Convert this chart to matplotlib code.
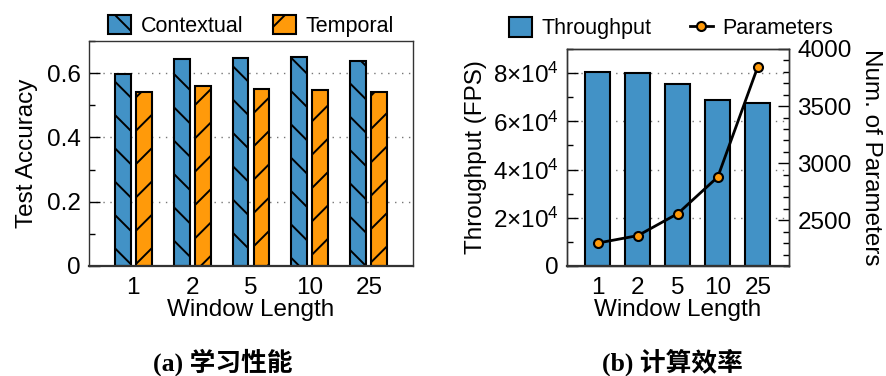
import numpy as np
import matplotlib
matplotlib.use("Agg")
import matplotlib.pyplot as plt
from matplotlib.ticker import MultipleLocator, FixedLocator

# data
windows = ["1", "2", "5", "10", "25"]
contextual = [0.598, 0.644, 0.646, 0.650, 0.637]
temporal = [0.542, 0.561, 0.551, 0.548, 0.541]
throughput = [80300, 80000, 75300, 69000, 67700]
parameters = [2301, 2366, 2559, 2880, 3845]

blue = "#4292c6"
orange = "#ff9a0a"

plt.rcParams["font.family"] = ["Liberation Sans", "DejaVu Sans"]
plt.rcParams["mathtext.fontset"] = "custom"
plt.rcParams["mathtext.rm"] = "Liberation Sans"
plt.rcParams["mathtext.it"] = "Liberation Sans"
plt.rcParams["hatch.linewidth"] = 1.4
plt.rcParams["axes.linewidth"] = 1.0

fs = 17.5
lfs = 15.5

fig = plt.figure(figsize=(8.87, 3.76), dpi=100)
ax1 = fig.add_axes([0.1003, 0.2926, 0.3653, 0.5984])
ax2 = fig.add_axes([0.6389, 0.2926, 0.2506, 0.5771])

x = np.arange(len(windows))


def style_axes(ax):
    for s in ax.spines.values():
        s.set_color("#333333")
        s.set_linewidth(1.0)
    ax.spines["bottom"].set_linewidth(1.6)
    ax.tick_params(axis="x", length=0, pad=8, labelsize=fs)
    ax.tick_params(axis="y", which="major", direction="in", length=8, width=1.0,
                   labelsize=fs, pad=6)
    ax.tick_params(axis="y", which="minor", direction="in", length=4.5, width=1.0)
    ax.set_axisbelow(True)


# (a) accuracy
w = 0.27
off = 0.178
ax1.bar(x - off, contextual, w, color=blue, edgecolor="black", linewidth=1.5,
        hatch="\\", label="Contextual")
ax1.bar(x + off, temporal, w, color=orange, edgecolor="black", linewidth=1.5,
        hatch="/", label="Temporal")
ax1.set_xlim(-0.75, 4.75)
ax1.set_ylim(0, 0.7)
ax1.set_xticks(x)
ax1.set_xticklabels(windows)
ax1.yaxis.set_major_locator(FixedLocator([0, 0.2, 0.4, 0.6]))
ax1.set_yticklabels(["0", "0.2", "0.4", "0.6"])
ax1.yaxis.set_minor_locator(MultipleLocator(0.1))
ax1.yaxis.grid(True, which="major", linestyle=(0, (1, 4)), color="#777777", linewidth=1.0)
style_axes(ax1)
ax1.set_xlabel("Window Length", fontsize=fs, labelpad=0)
ax1.set_ylabel("Test Accuracy", fontsize=fs, labelpad=6)
ax1.legend(loc="lower center", bbox_to_anchor=(0.5, 0.98), ncol=2, frameon=False,
           fontsize=lfs, handlelength=1.05, handleheight=1.0, handletextpad=0.45,
           columnspacing=1.4, borderaxespad=0.0)

# (b) throughput / parameters
ax2.bar(x, throughput, 0.62, color=blue, edgecolor="black", linewidth=1.5,
        label="Throughput")
ax2.set_xlim(-0.78, 4.78)
ax2.set_ylim(0, 90000)
ax2.set_xticks(x)
ax2.set_xticklabels(windows)
ax2.yaxis.set_major_locator(FixedLocator([0, 20000, 40000, 60000, 80000]))
ax2.set_yticklabels(["0", r"$2{\times}10^4$", r"$4{\times}10^4$",
                     r"$6{\times}10^4$", r"$8{\times}10^4$"])
ax2.yaxis.set_minor_locator(MultipleLocator(10000))
ax2.yaxis.grid(True, which="major", linestyle=(0, (1, 4)), color="#777777", linewidth=1.0)
style_axes(ax2)
ax2.set_xlabel("Window Length", fontsize=fs, labelpad=0)
ax2.set_ylabel("Throughput (FPS)", fontsize=fs, labelpad=4)

ax3 = ax2.twinx()
ax3.plot(x, parameters, color="black", linewidth=2.0, marker="o", markersize=6.5,
         markerfacecolor=orange, markeredgecolor="black", markeredgewidth=1.5,
         label="Parameters")
ax3.set_ylim(2100, 4000)
ax3.yaxis.set_major_locator(FixedLocator([2500, 3000, 3500, 4000]))
ax3.yaxis.set_minor_locator(MultipleLocator(100))
ax3.tick_params(axis="y", which="major", direction="in", length=8, width=1.0,
                labelsize=fs, pad=6)
ax3.tick_params(axis="y", which="minor", direction="in", length=4.5, width=1.0)
for s in ax3.spines.values():
    s.set_color("#333333")
ax3.set_ylabel("Num. of Parameters", fontsize=fs, rotation=270, labelpad=22)

h1, l1 = ax2.get_legend_handles_labels()
h2, l2 = ax3.get_legend_handles_labels()
ax2.legend(h1 + h2, l1 + l2, loc="lower center", bbox_to_anchor=(0.47, 1.005), ncol=2,
           frameon=False, fontsize=lfs, handlelength=1.05, handleheight=1.0,
           handletextpad=0.45, columnspacing=1.8, borderaxespad=0.0)

# captions
cap_font = ["Liberation Serif", "Noto Sans CJK SC"]
fig.text(223 / 887, 1 - 362 / 376, "(a) 学习性能", ha="center", va="center",
         fontsize=18.5, fontweight="bold", family=cap_font)
fig.text(672 / 887, 1 - 362 / 376, "(b) 计算效率", ha="center", va="center",
         fontsize=18.5, fontweight="bold", family=cap_font)

fig.savefig("out.png", dpi=100)
